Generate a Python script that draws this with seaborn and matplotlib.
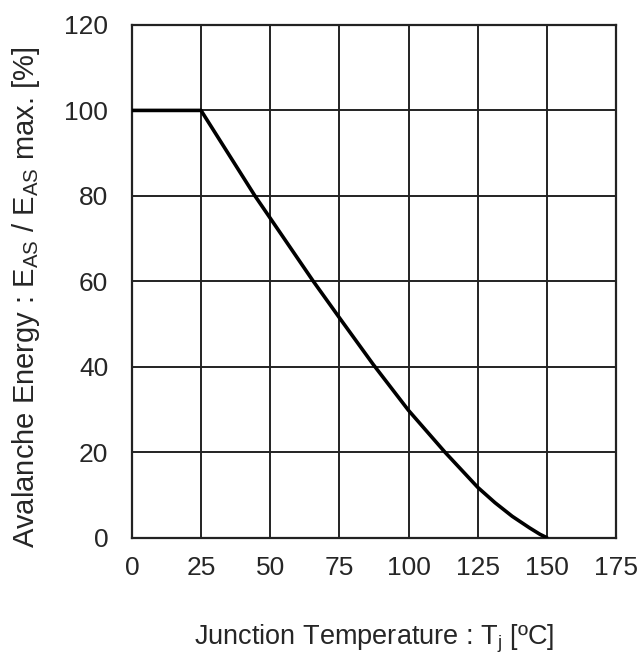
import matplotlib
matplotlib.use("Agg")
import matplotlib.pyplot as plt
import seaborn as sns
import pandas as pd

# Avalanche energy derating vs. junction temperature
temperature = [0, 25, 44.5, 50, 65.6, 75, 87.3, 100, 113.2, 125, 131.25,
               137.5, 143.75, 147.5, 150]
energy_pct = [100, 100, 80, 74.8, 60, 51.5, 40.5, 29.8, 20, 11.8, 8.2,
              5.0, 2.3, 0.8, 0]

x_ticks = [0, 25, 50, 75, 100, 125, 150, 175]
y_ticks = [0, 20, 40, 60, 80, 100, 120]

sns.set_theme(style="white")
plt.rcParams["font.family"] = ["Liberation Sans", "DejaVu Sans"]
plt.rcParams["mathtext.default"] = "regular"

df = pd.DataFrame({"T": temperature, "E": energy_pct})

fig = plt.figure(figsize=(6.4, 6.57), dpi=100)
ax = fig.add_axes([0.206, 0.1816, 0.7565, 0.7804])

sns.lineplot(data=df, x="T", y="E", ax=ax, color="black", linewidth=2.6,
             zorder=3, sort=False)

ax.set_xlim(0, 175)
ax.set_ylim(0, 120)
ax.set_xticks(x_ticks)
ax.set_yticks(y_ticks)
ax.grid(True, color="#222222", linewidth=1.4)
ax.set_axisbelow(True)
for s in ax.spines.values():
    s.set_color("#222222")
    s.set_linewidth(1.6)

text_color = "#262626"
ax.tick_params(axis="both", length=0, labelsize=19, labelcolor=text_color)
ax.tick_params(axis="y", pad=17)
ax.tick_params(axis="x", pad=13)

ax.set_xlabel("Junction Temperature : T$_{j}$ [ºC]", fontsize=19.5,
              color=text_color, labelpad=31)
ax.set_ylabel("Avalanche Energy : E$_{AS}$ / E$_{AS}$ max. [%]", fontsize=21,
              color=text_color, labelpad=16, y=0.47)

fig.savefig("out.png", dpi=100)
